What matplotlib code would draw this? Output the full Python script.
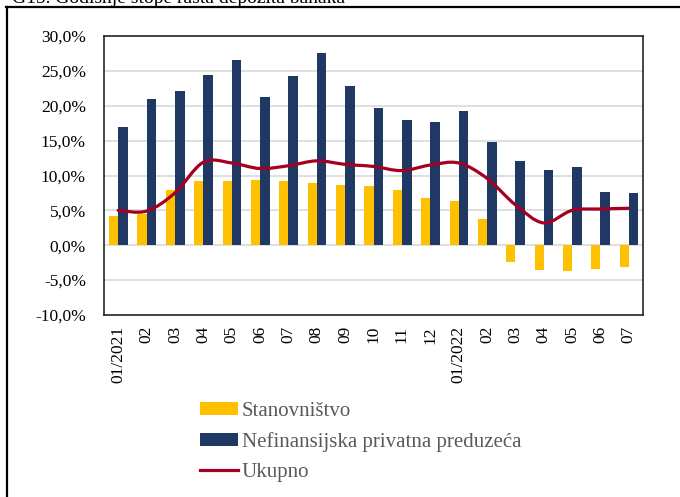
import matplotlib.pyplot as plt
import numpy as np
from matplotlib.path import Path
from matplotlib.patches import PathPatch, Patch
from matplotlib.lines import Line2D

plt.rcParams['font.family'] = ['Liberation Serif', 'DejaVu Serif']

# Podaci: godišnje stope rasta depozita (%)
labels = ['01/2021', '02', '03', '04', '05', '06', '07', '08', '09', '10', '11', '12',
          '01/2022', '02', '03', '04', '05', '06', '07']
stanovnistvo = [4.2, 4.5, 7.9, 9.2, 9.2, 9.4, 9.2, 8.9, 8.6, 8.5, 7.9, 6.8,
                6.4, 3.7, -2.4, -3.5, -3.7, -3.4, -3.1]
preduzeca = [16.9, 20.9, 22.1, 24.4, 26.5, 21.3, 24.2, 27.6, 22.8, 19.7, 17.9, 17.7,
             19.3, 14.8, 12.1, 10.8, 11.2, 7.6, 7.5]
ukupno = [5.0, 4.9, 7.5, 11.9, 11.8, 11.0, 11.4, 12.1, 11.6, 11.3, 10.7, 11.5,
          11.8, 9.6, 5.8, 3.2, 5.0, 5.2, 5.3]

c_yellow = '#FFC000'
c_navy = '#1F3864'
c_red = '#A50021'

fig = plt.figure(figsize=(6.8, 4.97), dpi=100)

# okvir slike (levo i gore) i naslov koji je odsečen
fig.add_artist(Line2D([7 / 680, 7 / 680], [0, 1 - 7 / 497], transform=fig.transFigure,
                      color='black', lw=1.6))
fig.add_artist(Line2D([6 / 680, 1], [1 - 7 / 497, 1 - 7 / 497], transform=fig.transFigure,
                      color='black', lw=1.6))
fig.text(12 / 680, 1 - 3 / 497, 'G15. Godišnje stope rasta depozita banaka',
         fontsize=14, va='baseline', ha='left')

ax = fig.add_axes([104 / 680, 1 - 315 / 497, 539 / 680, 279 / 497])
x = np.arange(len(labels))
ax.bar(x - 0.16, stanovnistvo, width=0.32, color=c_yellow, zorder=2)
ax.bar(x + 0.17, preduzeca, width=0.34, color=c_navy, zorder=3)

# izglađena linija (Catmull-Rom -> Bezier)
pts = np.column_stack([x, ukupno]).astype(float)
verts = [pts[0]]
codes = [Path.MOVETO]
n = len(pts)
for i in range(n - 1):
    p0 = pts[i - 1] if i > 0 else pts[i]
    p1 = pts[i]
    p2 = pts[i + 1]
    p3 = pts[i + 2] if i + 2 < n else pts[i + 1]
    verts += [p1 + (p2 - p0) / 6, p2 - (p3 - p1) / 6, p2]
    codes += [Path.CURVE4] * 3
ax.add_patch(PathPatch(Path(verts, codes), fill=False, edgecolor=c_red, lw=2.3,
                       zorder=4, capstyle='round'))

ax.set_xlim(-0.5, len(labels) - 0.5)
ax.set_ylim(-10, 30)
ax.set_yticks(np.arange(-10, 31, 5))
ax.set_yticklabels([f'{v:.1f}%'.replace('.', ',') for v in np.arange(-10, 31, 5)])
ax.set_xticks(x)
ax.set_xticklabels(labels, rotation=90)
ax.tick_params(axis='both', length=0, labelsize=12.5)
ax.tick_params(axis='y', pad=13)
ax.tick_params(axis='x', pad=8)
ax.grid(axis='y', color='#D9D9D9', lw=1.2, zorder=1)
ax.set_axisbelow(True)
for s in ax.spines.values():
    s.set_color('#262626')
    s.set_linewidth(1.2)

handles = [Patch(facecolor=c_yellow), Patch(facecolor=c_navy),
           Line2D([], [], color=c_red, lw=2.3)]
fig.legend(handles, ['Stanovništvo', 'Nefinansijska privatna preduzeća', 'Ukupno'],
           loc='upper left', bbox_to_anchor=(200 / 680, 1 - 402 / 497), frameon=False,
           fontsize=15, labelcolor='#595959', handlelength=1.8, handleheight=0.55,
           handletextpad=0.2, labelspacing=0.52, borderpad=0, borderaxespad=0)

plt.savefig('out.png', dpi=100)
